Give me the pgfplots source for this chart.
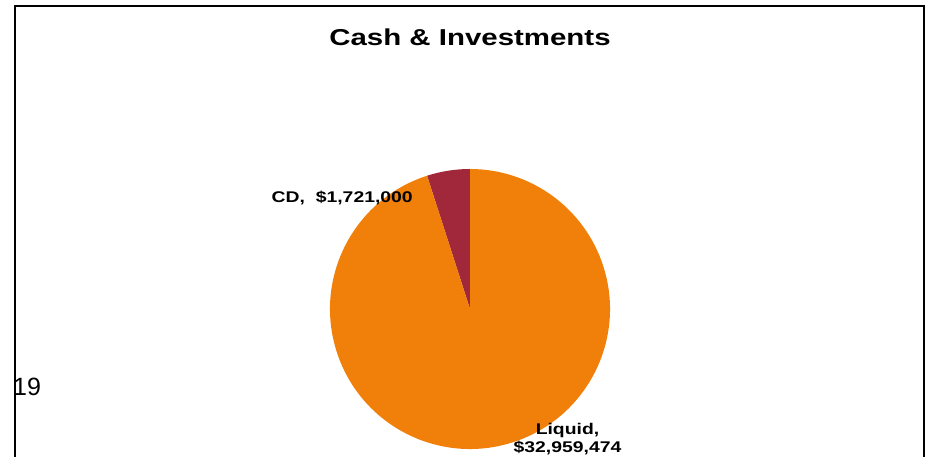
\documentclass[border=0pt]{standalone}
\usepackage{fontspec}
\setmainfont{Liberation Sans}
\newfontfamily\titlefont[FakeStretch=1.28]{Liberation Sans Bold}
\newfontfamily\labelfont[FakeStretch=1.25]{Liberation Sans Bold}
\usepackage{pgfplots}
\usepackage{pgfplotstable}
\pgfplotsset{compat=1.18}
\definecolor{liqorange}{RGB}{240,128,10}
\definecolor{cdred}{RGB}{160,40,58}
% values in millions of dollars
\pgfplotstableread{
label value
CD 1.721000
Liquid 32.959474
}\piedata
\begin{document}
\begin{tikzpicture}
\pgfplotstablegetelem{0}{value}\of\piedata \let\cdval\pgfplotsretval
\pgfplotstablegetelem{1}{value}\of\piedata \let\liqval\pgfplotsretval
\pgfmathsetmacro\cdang{360*\cdval/(\cdval+\liqval)}
\pgfmathsetmacro\liqang{360*\liqval/(\cdval+\liqval)}
\pgfmathsetmacro\liqstart{90+\cdang}
\begin{axis}[at={(0,0)},anchor=south west,scale only axis,
  width=927pt,height=457pt,xmin=0,xmax=927,ymin=0,ymax=457,
  hide axis,clip=false]
\fill[cdred] (axis cs:470,148) -- (axis cs:470,288)
  arc[start angle=90,delta angle=\cdang,radius=140pt] -- cycle;
\fill[liqorange] (axis cs:470,148) -- ++(\liqstart:140pt)
  arc[start angle=\liqstart,delta angle=\liqang,radius=140pt] -- cycle;
\draw[line width=2pt] (axis cs:15,0) -- (axis cs:15,451) -- (axis cs:924,451) -- (axis cs:924,0);
\node[anchor=base,inner sep=0pt] at (axis cs:470,411)
  {\fontsize{23}{25}\selectfont\titlefont Cash \& Investments};
\node[anchor=base east,inner sep=0pt] at (axis cs:413,254)
  {\fontsize{15.5}{17}\selectfont\labelfont CD,\ \ \$1,721,000};
\node[anchor=base,inner sep=0pt] at (axis cs:567.5,22.5)
  {\fontsize{15.5}{17}\selectfont\labelfont Liquid,};
\node[anchor=base,inner sep=0pt] at (axis cs:567.5,4)
  {\fontsize{15.5}{17}\selectfont\labelfont \$32,959,474};
\node[anchor=base west,inner sep=0pt] at (axis cs:13,61)
  {\fontsize{25}{25}\selectfont 19};
\end{axis}
\pgfresetboundingbox
\useasboundingbox (0,0) rectangle (927pt,457pt);
\end{tikzpicture}
\end{document}
